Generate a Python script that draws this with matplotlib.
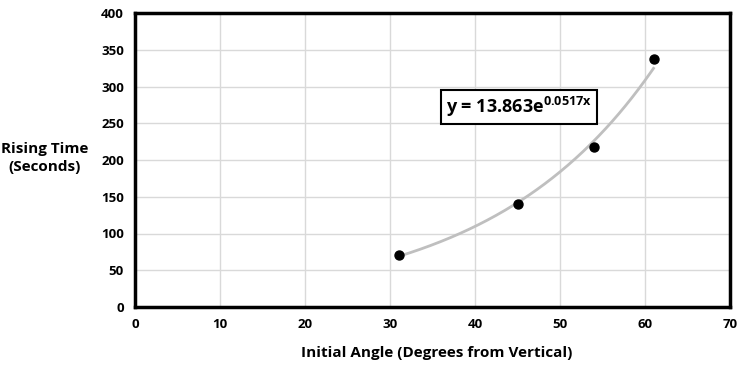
import numpy as np
import matplotlib
matplotlib.use("Agg")
import matplotlib.pyplot as plt

angles = [31, 45, 54, 61]
rising_time = [71, 140, 218, 337]
fit_a = 13.863
fit_b = 0.0517
x_ticks = [0, 10, 20, 30, 40, 50, 60, 70]
y_ticks = [0, 50, 100, 150, 200, 250, 300, 350, 400]

plt.rcParams['font.family'] = ['Open Sans', 'DejaVu Sans']
plt.rcParams['mathtext.fontset'] = 'custom'
plt.rcParams['mathtext.rm'] = 'Open Sans'
plt.rcParams['mathtext.bf'] = 'Open Sans:bold'

fig = plt.figure(figsize=(7.47, 3.70), dpi=100)
ax = fig.add_axes([135/747, 1-307/370, (730-135)/747, (307-13)/370])

xf = np.linspace(min(angles), max(angles), 200)
ax.plot(xf, fit_a*np.exp(fit_b*xf), color='#bfbfbf', lw=2, zorder=2)
ax.scatter(angles, rising_time, s=42, color='black', zorder=3)

ax.set_xlim(0, 70)
ax.set_ylim(0, 400)
ax.set_xticks(x_ticks)
ax.set_yticks(y_ticks)
ax.grid(True, color='#d9d9d9', lw=1, zorder=0)
ax.set_axisbelow(True)
for s in ax.spines.values():
    s.set_linewidth(2.5)
    s.set_color('black')
ax.tick_params(length=0, pad=8, labelsize=9.5)
for lab in ax.get_xticklabels() + ax.get_yticklabels():
    lab.set_fontweight('bold')

fig.text(437/747, 1-353/370, 'Initial Angle (Degrees from Vertical)', ha='center', va='center',
         fontsize=11, fontweight='bold')
fig.text(45/747, 1-158/370, 'Rising Time\n(Seconds)', ha='center', va='center',
         fontsize=11, fontweight='bold', linespacing=1.4)

ax.text(519/747, 1-107/370, r'y = 13.863e$^{\mathbf{0.0517x}}$', transform=fig.transFigure,
        ha='center', va='center', fontsize=13, fontweight='bold',
        bbox=dict(boxstyle='square,pad=0.3', fc='white', ec='black', lw=1.5))

fig.savefig('out.png', dpi=100)
